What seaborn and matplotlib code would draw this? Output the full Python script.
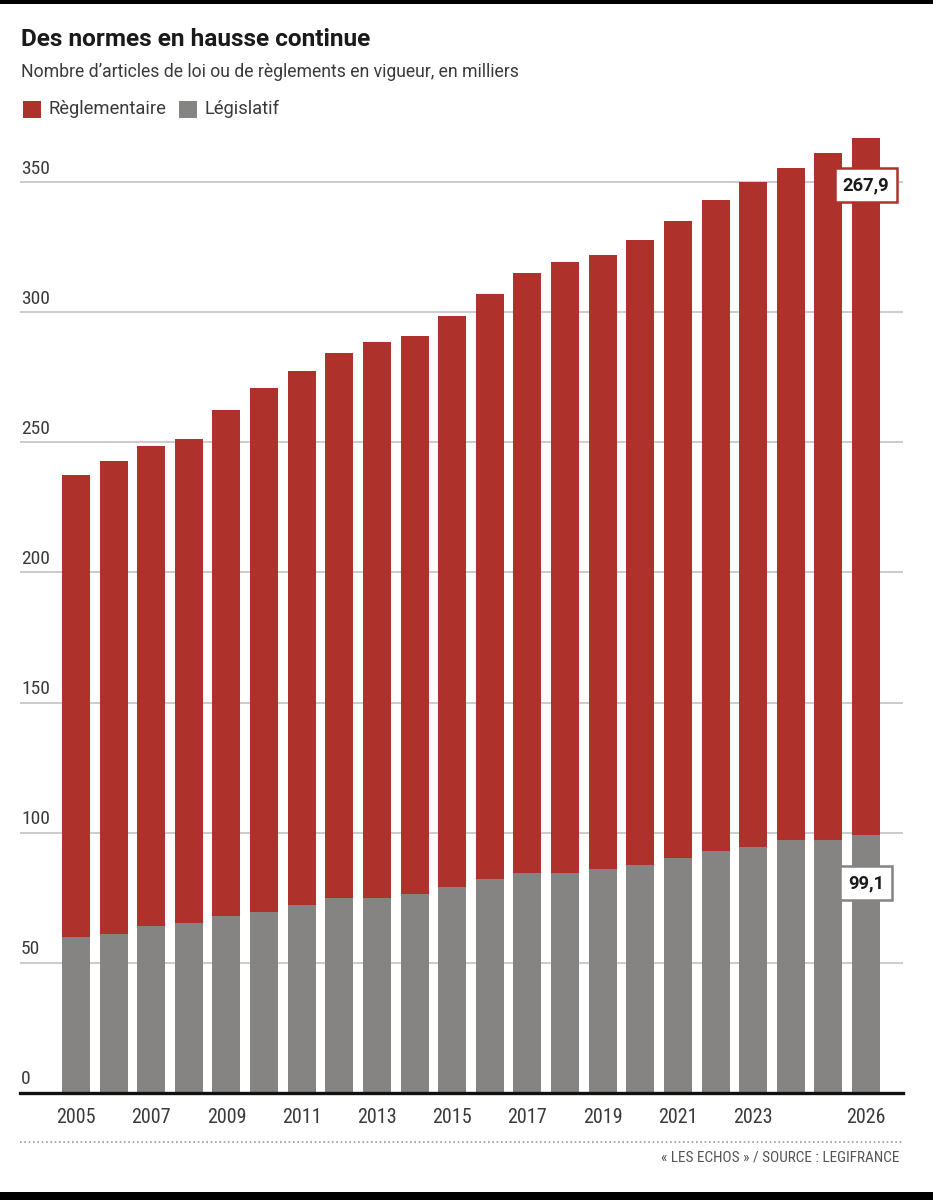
import matplotlib
matplotlib.use("Agg")
import matplotlib.pyplot as plt
from matplotlib import font_manager
from matplotlib.patches import Rectangle
from matplotlib.lines import Line2D
import matplotlib.transforms as mtransforms
import seaborn as sns
import pandas as pd
import numpy as np

# ---------------- data ----------------
years = [str(y) for y in range(2005, 2027)]
legislatif = [59.8, 61.0, 63.9, 65.2, 68.0, 69.4, 72.2, 74.8, 75.0, 76.4, 79.2,
              82.0, 84.6, 84.6, 86.0, 87.5, 90.3, 93.0, 94.4, 97.1, 97.1, 99.1]
reglementaire = [177.6, 182.0, 184.7, 186.1, 194.4, 201.4, 205.4, 209.8, 213.7,
                 214.6, 219.5, 225.1, 230.7, 234.8, 236.3, 240.5, 244.9, 250.3,
                 255.9, 258.6, 264.2, 267.9]
xtick_years = ["2005", "2007", "2009", "2011", "2013", "2015", "2017", "2019",
               "2021", "2023", "2026"]
yticks = [0, 50, 100, 150, 200, 250, 300, 350]
label_texts = ["267,9", "99,1"]

# ---------------- style ----------------
RED = "#AE312C"
GRAY = "#868483"
GRID = "#BDBDBD"
TXT = "#3a3a3a"

sns.set_theme(style="white")
avail = {f.name for f in font_manager.fontManager.ttflist}
NARROW = next((f for f in ["Liberation Sans Narrow", "Roboto Condensed",
                           "Open Sans Condensed", "Roboto"] if f in avail), "DejaVu Sans")
MAIN = "Roboto" if "Roboto" in avail else "DejaVu Sans"
plt.rcParams["font.family"] = [MAIN, "DejaVu Sans"]

W, H = 933, 1200
fig = plt.figure(figsize=(W / 100, H / 100), dpi=100)
fig.patch.set_facecolor("white")

def fx(px):
    return px / W

def fy(py):
    return 1 - py / H

base_px = 1092.5
ppu = 2.6
ymax = 372
ax_left, ax_right = 20, 903
top_px = base_px - ymax * ppu
ax = fig.add_axes([fx(ax_left), fy(base_px), fx(ax_right - ax_left),
                   (base_px - top_px) / H])

df = pd.DataFrame({"annee": years, "legislatif": legislatif,
                   "reglementaire": reglementaire})
df["total"] = df["legislatif"] + df["reglementaire"]

sns.barplot(data=df, x="annee", y="total", color=RED, saturation=1,
            width=0.745, ax=ax, zorder=2, linewidth=0, edgecolor="none")
sns.barplot(data=df, x="annee", y="legislatif", color=GRAY, saturation=1,
            width=0.745, ax=ax, zorder=3, linewidth=0, edgecolor="none")

# x mapping: bar 0 at px 76, bar 21 at px 866
step = (866 - 76) / 21
xmin = -(76 - ax_left) / step
xmax = xmin + (ax_right - ax_left) / step
ax.set_xlim(xmin, xmax)
ax.set_ylim(0, ymax)

for s in ["top", "right", "left"]:
    ax.spines[s].set_visible(False)
ax.spines["bottom"].set_color("#111111")
ax.spines["bottom"].set_linewidth(2.4)
ax.spines["bottom"].set_zorder(5)

# grid lines
for v in yticks[1:]:
    ax.axhline(v, color=GRID, lw=1.1, zorder=1)

# y labels above grid lines
ax.set_yticks([])
trans = mtransforms.blended_transform_factory(ax.transAxes, ax.transData)
for v in yticks:
    ax.annotate(str(v), xy=(0, v), xycoords=trans, xytext=(1, 4),
                textcoords="offset pixels", ha="left", va="bottom",
                fontsize=14, color=TXT, family=NARROW, zorder=6)

# x labels
pos = [years.index(y) for y in xtick_years]
ax.set_xticks(pos)
ax.set_xticklabels(xtick_years, family=NARROW, fontsize=14.5, color=TXT)
ax.tick_params(axis="x", length=0, pad=11)
ax.set_xlabel("")
ax.set_ylabel("")

# value boxes on last bar
last = len(years) - 1
box_y = [349.0, 80.5]
box_col = [RED, GRAY]
for t, yv, c in zip(label_texts, box_y, box_col):
    ax.text(last, yv, t, ha="center", va="center", fontsize=13.2,
            fontweight="bold", color="#1a1a1a", zorder=7,
            bbox=dict(boxstyle="square,pad=0.42", facecolor="white",
                      edgecolor=c, linewidth=1.8))

# title & subtitle
fig.text(fx(21), fy(40), "Des normes en hausse continue", fontsize=17.6,
         fontweight="bold", color="#1a1a1a", ha="left", va="center")
fig.text(fx(21), fy(72), "Nombre d\u2019articles de loi ou de règlements en vigueur, en milliers",
         fontsize=12.7, color=TXT, ha="left", va="center")

# legend
leg_items = [("Règlementaire", RED, 23), ("Législatif", GRAY, 179)]
for lab, c, x0 in leg_items:
    fig.patches.append(Rectangle((fx(x0), fy(118)), fx(18), 17 / H,
                                 transform=fig.transFigure, facecolor=c,
                                 edgecolor="none"))
    fig.text(fx(x0 + 26), fy(109), lab, fontsize=13.2, color=TXT,
             ha="left", va="center")

# dotted rule & source
fig.add_artist(Line2D([fx(20), fx(903)], [fy(1142), fy(1142)],
                      transform=fig.transFigure, color="#9a9a9a", lw=1.2,
                      linestyle=(0, (1, 1.6))))
fig.text(fx(899), fy(1157), "« LES ECHOS » / SOURCE : LEGIFRANCE",
         fontsize=11, color="#555555", family=NARROW, ha="right", va="center")

# black bands (photo frame)
fig.patches.append(Rectangle((0, fy(4)), 1, 4 / H, transform=fig.transFigure,
                             facecolor="black", edgecolor="none"))
fig.patches.append(Rectangle((0, 0), 1, 8 / H, transform=fig.transFigure,
                             facecolor="black", edgecolor="none"))

fig.savefig("out.png", dpi=100, facecolor="white")
